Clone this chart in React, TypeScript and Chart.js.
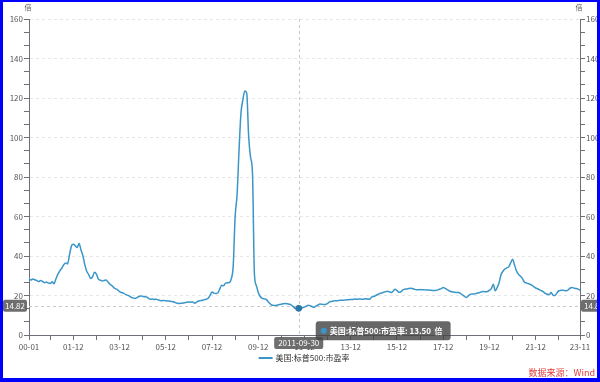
import React, { useEffect, useRef } from 'react';
import { Chart, registerables } from 'chart.js';

Chart.register(...registerables);

const SERIES_NAME = '美国:标普500:市盈率';
const UNIT = '倍';
const SOURCE = '数据来源：Wind';
const START_YEAR = 2000;

const PE_2000 = [28.2, 27.9, 28.3, 28.0, 27.6, 27.0, 27.6, 27.2, 26.5, 26.8, 26.3, 26.1];
const PE_2001 = [26.9, 26.0, 28.5, 30.8, 32.5, 33.8, 35.5, 36.5, 36.0, 40.5, 45.0, 46.0];
const PE_2002 = [45.2, 44.3, 46.3, 43.0, 40.0, 35.5, 32.2, 30.6, 28.6, 29.5, 31.8, 30.8];
const PE_2003 = [28.3, 27.8, 27.4, 27.6, 27.9, 26.8, 25.7, 25.0, 24.0, 23.4, 22.9, 22.0];
const PE_2004 = [21.5, 21.2, 20.6, 20.2, 19.8, 19.1, 18.8, 18.5, 18.9, 19.5, 19.8, 19.6];
const PE_2005 = [19.4, 19.3, 18.6, 18.1, 18.2, 18.0, 18.1, 17.8, 17.5, 17.4, 17.5, 17.3];
const PE_2006 = [17.2, 17.1, 17.0, 16.8, 16.4, 16.1, 16.0, 16.1, 16.2, 16.4, 16.6, 16.7];
const PE_2007 = [16.6, 16.7, 16.1, 16.6, 17.2, 17.4, 17.6, 17.9, 18.1, 18.6, 20.1, 21.8];
const PE_2008 = [21.2, 21.0, 21.3, 23.2, 25.2, 24.9, 26.2, 26.5, 26.6, 28.5, 35.0, 60.0];
const PE_2009 = [71.0, 93.0, 112.0, 119.0, 123.5, 122.5, 101.0, 90.0, 82.0, 31.0, 25.0, 21.5];
const PE_2010 = [19.5, 18.6, 18.3, 18.1, 17.0, 16.0, 15.2, 15.0, 14.9, 15.2, 15.4, 15.6];
const PE_2011 = [15.8, 15.9, 15.8, 15.6, 15.3, 14.5, 13.6, 13.0, 13.5, 13.3, 13.9, 14.2];
const PE_2012 = [14.6, 15.1, 14.8, 14.3, 14.0, 14.7, 15.2, 15.7, 15.6, 15.4, 15.5, 16.0];
const PE_2013 = [16.8, 17.0, 17.2, 17.4, 17.4, 17.5, 17.6, 17.6, 17.7, 17.8, 17.9, 18.0];
const PE_2014 = [18.0, 18.2, 18.1, 18.2, 18.2, 18.1, 18.2, 18.3, 18.1, 18.2, 19.3, 19.5];
const PE_2015 = [20.0, 20.5, 21.0, 21.3, 21.6, 21.9, 22.1, 21.9, 21.5, 22.2, 23.2, 22.5];
const PE_2016 = [21.6, 21.8, 22.8, 23.2, 23.3, 23.5, 23.7, 23.5, 23.2, 22.9, 22.9, 23.0];
const PE_2017 = [22.9, 22.9, 22.8, 22.8, 22.7, 22.6, 22.5, 22.5, 22.8, 23.2, 23.5, 24.0];
const PE_2018 = [23.6, 23.0, 22.4, 22.0, 21.8, 21.6, 21.5, 21.5, 21.0, 20.3, 19.6, 19.0];
const PE_2019 = [19.8, 20.6, 20.8, 20.8, 21.0, 21.3, 21.5, 21.9, 22.0, 21.9, 22.0, 22.7];
const PE_2020 = [23.5, 25.7, 22.4, 24.0, 26.5, 30.5, 32.3, 33.4, 34.0, 34.5, 36.5, 38.4];
const PE_2021 = [35.5, 32.5, 30.8, 29.8, 28.8, 27.0, 26.4, 26.1, 25.7, 25.2, 24.5, 23.8];
const PE_2022 = [23.4, 22.9, 22.4, 21.8, 21.1, 20.6, 20.4, 21.5, 20.2, 20.0, 21.2, 22.4];
const PE_2023 = [22.6, 22.7, 22.5, 22.4, 23.0, 23.8, 24.0, 23.7, 23.5, 23.2, 22.7];

const PE_VALUES = [
  ...PE_2000, ...PE_2001, ...PE_2002, ...PE_2003, ...PE_2004, ...PE_2005,
  ...PE_2006, ...PE_2007, ...PE_2008, ...PE_2009, ...PE_2010, ...PE_2011,
  ...PE_2012, ...PE_2013, ...PE_2014, ...PE_2015, ...PE_2016, ...PE_2017,
  ...PE_2018, ...PE_2019, ...PE_2020, ...PE_2021, ...PE_2022, ...PE_2023,
];

const MONTHS = PE_VALUES.map(
  (_, i) => `${START_YEAR + Math.floor(i / 12)}-${String((i % 12) + 1).padStart(2, '0')}`
);

const X_LABELED = [
  '2000-01', '2001-12', '2003-12', '2005-12', '2007-12', '2009-12', '2011-12',
  '2013-12', '2015-12', '2017-12', '2019-12', '2021-12', '2023-11',
];
const X_MINOR = [
  '2000-12', '2002-12', '2004-12', '2006-12', '2008-12', '2010-12',
  '2012-12', '2014-12', '2016-12', '2018-12', '2020-12', '2022-12',
];
const Y_LABELS = [0, 20, 40, 60, 80, 100, 120, 140, 160];

const HOVER_MONTH = '2011-09';
const HOVER_DATE = '2011-09-30';
const POINTER_VALUE = 14.82;

const FONT = '"Noto Sans CJK SC", "Noto Sans", sans-serif';
const LINE_COLOR = '#3a95c9';
const AXIS_COLOR = '#6e7079';
const TEXT_COLOR = '#555';

const HOVER_INDEX = MONTHS.indexOf(HOVER_MONTH);

function roundRect(ctx: CanvasRenderingContext2D, x: number, y: number, w: number, h: number, r: number) {
  ctx.beginPath();
  ctx.moveTo(x + r, y);
  ctx.lineTo(x + w - r, y);
  ctx.quadraticCurveTo(x + w, y, x + w, y + r);
  ctx.lineTo(x + w, y + h - r);
  ctx.quadraticCurveTo(x + w, y + h, x + w - r, y + h);
  ctx.lineTo(x + r, y + h);
  ctx.quadraticCurveTo(x, y + h, x, y + h - r);
  ctx.lineTo(x, y + r);
  ctx.quadraticCurveTo(x, y, x + r, y);
  ctx.closePath();
}

const overlayPlugin = {
  id: 'overlay',
  beforeDatasetsDraw(chart: any) {
    const { ctx, chartArea: a, scales } = chart;
    const x = scales.x.getPixelForValue(HOVER_INDEX);
    const y = scales.y.getPixelForValue(POINTER_VALUE);
    ctx.save();
    ctx.strokeStyle = '#c8c8c8';
    ctx.lineWidth = 1;
    ctx.setLineDash([3, 3]);
    ctx.beginPath();
    ctx.moveTo(Math.round(x) + 0.5, a.top);
    ctx.lineTo(Math.round(x) + 0.5, a.bottom);
    ctx.moveTo(a.left, Math.round(y) + 0.5);
    ctx.lineTo(a.right, Math.round(y) + 0.5);
    ctx.stroke();
    ctx.restore();
  },
  afterDraw(chart: any) {
    const { ctx, chartArea: a, scales } = chart;
    const x = scales.x.getPixelForValue(HOVER_INDEX);
    const y = scales.y.getPixelForValue(POINTER_VALUE);
    const pv = PE_VALUES[HOVER_INDEX];
    const py = scales.y.getPixelForValue(pv);
    ctx.save();
    ctx.textBaseline = 'middle';

    // axis pointer labels (y)
    const yText = POINTER_VALUE.toFixed(2);
    ctx.font = `8px ${FONT}`;
    ctx.fillStyle = 'rgba(102,102,102,0.95)';
    roundRect(ctx, 3, y - 6, a.left - 5, 12, 2);
    ctx.fill();
    roundRect(ctx, a.right + 1, y - 6, 26, 12, 2);
    ctx.fill();
    ctx.fillStyle = '#fff';
    ctx.textAlign = 'center';
    ctx.fillText(yText, 3 + (a.left - 5) / 2, y);
    ctx.textAlign = 'left';
    ctx.fillText(yText, a.right + 4, y);

    // axis pointer label (x)
    const dw = ctx.measureText(HOVER_DATE).width + 8;
    ctx.fillStyle = 'rgba(102,102,102,0.95)';
    roundRect(ctx, x - dw / 2, a.bottom + 2, dw, 12, 2);
    ctx.fill();
    ctx.fillStyle = '#fff';
    ctx.textAlign = 'center';
    ctx.fillText(HOVER_DATE, x, a.bottom + 8);

    // tooltip
    ctx.font = `bold 8px ${FONT}`;
    const tip = `${SERIES_NAME}: ${pv.toFixed(2)}  ${UNIT}`;
    const tw = ctx.measureText(tip).width;
    const bx = x + 17;
    const by = py + 13;
    const bw = tw + 22;
    const bh = 19;
    ctx.fillStyle = 'rgba(70,70,70,0.82)';
    roundRect(ctx, bx, by, bw, bh, 3);
    ctx.fill();
    ctx.fillStyle = LINE_COLOR;
    ctx.beginPath();
    ctx.arc(bx + 8, by + bh / 2, 3, 0, Math.PI * 2);
    ctx.fill();
    ctx.fillStyle = '#fff';
    ctx.textAlign = 'left';
    ctx.fillText(tip, bx + 14, by + bh / 2 + 0.5);

    // unit labels
    ctx.font = `7px ${FONT}`;
    ctx.fillStyle = TEXT_COLOR;
    ctx.textAlign = 'center';
    ctx.fillText(UNIT, a.left - 1, 7);
    ctx.fillText(UNIT, a.right - 1, 7);

    // legend
    ctx.font = `8px ${FONT}`;
    const lw = ctx.measureText(SERIES_NAME).width;
    const lineW = 14;
    const total = lineW + 3 + lw;
    const lx = 304 - total / 2;
    const ly = 358;
    ctx.strokeStyle = LINE_COLOR;
    ctx.lineWidth = 2;
    ctx.beginPath();
    ctx.moveTo(lx, ly);
    ctx.lineTo(lx + lineW, ly);
    ctx.stroke();
    ctx.fillStyle = '#333';
    ctx.textAlign = 'left';
    ctx.fillText(SERIES_NAME, lx + lineW + 3, ly);

    // source
    ctx.font = `9px ${FONT}`;
    ctx.fillStyle = '#e23b3b';
    ctx.textAlign = 'right';
    ctx.fillText(SOURCE, 595, 373);
    ctx.restore();
  },
};

const isMajorY = (v: number) => Math.abs(v / 20 - Math.round(v / 20)) < 1e-6;
const yTickValues = () => {
  const out: { value: number }[] = [];
  for (let k = 0; k < Y_LABELS.length - 1; k++) {
    const a = Y_LABELS[k];
    const b = Y_LABELS[k + 1];
    out.push({ value: a }, { value: a + (b - a) / 3 }, { value: a + (2 * (b - a)) / 3 });
  }
  out.push({ value: Y_LABELS[Y_LABELS.length - 1] });
  return out;
};

const yAxis = (position: 'left' | 'right', width: number, onArea: boolean) => ({
  type: 'linear' as const,
  position,
  min: 0,
  max: 160,
  afterBuildTicks: (s: any) => {
    s.ticks = yTickValues();
  },
  afterFit: (s: any) => {
    s.width = width;
  },
  ticks: {
    autoSkip: false,
    padding: 1,
    color: TEXT_COLOR,
    font: { size: 8, family: FONT },
    callback: (v: number) => (isMajorY(v) ? String(Math.round(v)) : ''),
  },
  grid: {
    drawOnChartArea: onArea,
    drawTicks: true,
    tickLength: 5,
    tickColor: AXIS_COLOR,
    color: (c: any) => (c.tick && isMajorY(c.tick.value) && c.tick.value !== 0 ? '#e6e6e6' : 'rgba(0,0,0,0)'),
    lineWidth: 1,
  },
  border: { display: true, color: AXIS_COLOR, width: 1, dash: [3, 3] },
});

export default function App() {
  const ref = useRef<HTMLCanvasElement>(null);

  useEffect(() => {
    if (!ref.current) return;
    const chart = new Chart(ref.current, {
      type: 'line',
      data: {
        labels: MONTHS,
        datasets: [
          {
            label: SERIES_NAME,
            data: PE_VALUES,
            borderColor: LINE_COLOR,
            backgroundColor: LINE_COLOR,
            borderWidth: 1.5,
            cubicInterpolationMode: 'monotone',
            pointRadius: (c: any) => (c.dataIndex === HOVER_INDEX ? 3 : 0),
            pointBackgroundColor: '#2d76a8',
            pointBorderColor: '#2d76a8',
            pointBorderWidth: 1,
            fill: false,
          },
        ],
      },
      options: {
        responsive: false,
        animation: false,
        events: [],
        layout: { padding: { top: 19, bottom: 27, left: 0, right: 0 } },
        plugins: {
          legend: { display: false },
          tooltip: { enabled: false },
          title: { display: false },
        },
        scales: {
          x: {
            type: 'category',
            offset: false,
            afterBuildTicks: (s: any) => {
              const all = [...X_LABELED, ...X_MINOR]
                .map((m) => MONTHS.indexOf(m))
                .filter((i) => i >= 0)
                .sort((p, q) => p - q);
              s.ticks = all.map((v) => ({ value: v }));
            },
            afterFit: (s: any) => {
              s.height = 20;
            },
            ticks: {
              autoSkip: false,
              maxRotation: 0,
              minRotation: 0,
              padding: 2,
              color: TEXT_COLOR,
              font: { size: 8, family: FONT },
              callback: (v: number) => {
                const m = MONTHS[v];
                return X_LABELED.includes(m) ? m.slice(2) : '';
              },
            },
            grid: {
              drawOnChartArea: false,
              drawTicks: true,
              tickLength: 5,
              tickColor: AXIS_COLOR,
            },
            border: { display: true, color: AXIS_COLOR, width: 1 },
          },
          y: yAxis('left', 29, true),
          y2: yAxis('right', 20, false),
        },
      },
      plugins: [overlayPlugin],
    } as any);
    return () => chart.destroy();
  }, []);

  return (
    <div style={{ position: 'absolute', left: 0, top: 0, width: 600, height: 382, background: '#fff' }}>
      <canvas ref={ref} width={600} height={382} style={{ display: 'block', width: 600, height: 382 }} />
      <div
        style={{
          position: 'absolute',
          left: 0,
          top: 0,
          width: 600,
          height: 382,
          boxSizing: 'border-box',
          borderStyle: 'solid',
          borderColor: '#0000ff',
          borderWidth: '2px 3px 4px 3px',
          pointerEvents: 'none',
        }}
      />
    </div>
  );
}
